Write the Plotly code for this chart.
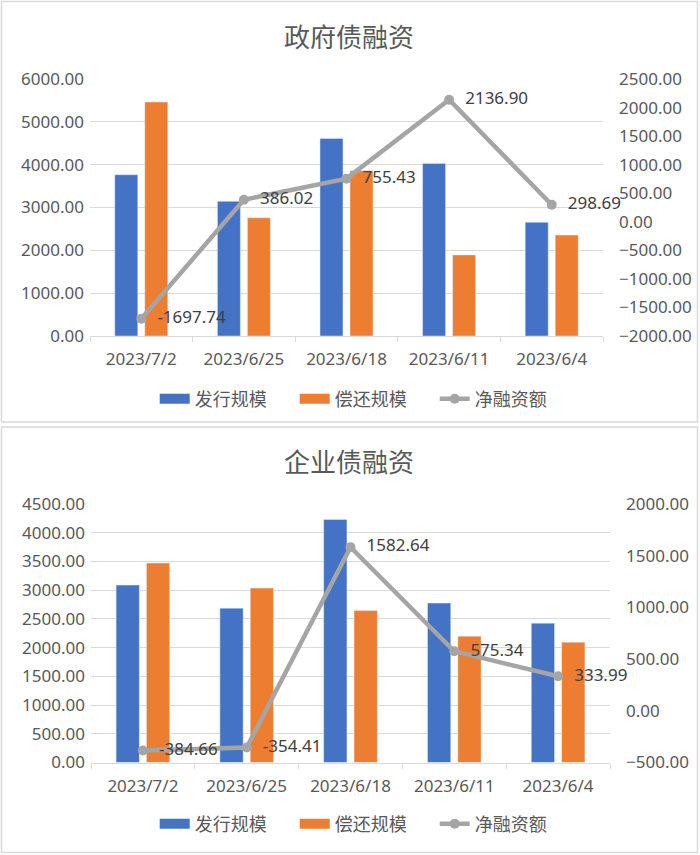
import plotly.graph_objects as go

W, H = 700, 855

dates = ["2023/7/2", "2023/6/25", "2023/6/18", "2023/6/11", "2023/6/4"]

gov_issue = [3765, 3145, 4612, 4030, 2655]
gov_repay = [5463, 2759, 3857, 1893, 2356]
gov_net = [-1697.74, 386.02, 755.43, 2136.90, 298.69]

corp_issue = [3088, 2687, 4230, 2775, 2426]
corp_repay = [3473, 3037, 2647, 2199, 2094]
corp_net = [-384.66, -354.41, 1582.64, 575.34, 333.99]

gov_left_ticks = [0, 1000, 2000, 3000, 4000, 5000, 6000]
gov_right_ticks = [-2000, -1500, -1000, -500, 0, 500, 1000, 1500, 2000, 2500]
corp_left_ticks = [0, 500, 1000, 1500, 2000, 2500, 3000, 3500, 4000, 4500]
corp_right_ticks = [-500, 0, 500, 1000, 1500, 2000]

BLUE = "#4472c4"
ORANGE = "#ed7d31"
GRAY = "#a5a5a5"
GRID = "#d9d9d9"
TXT = "#595959"
FONT = "Noto Sans, Noto Sans CJK SC, sans-serif"
CJK = "Noto Sans CJK SC, Noto Sans, sans-serif"


def px(x):
    return x / W


def py(y):
    return (H - y) / H


fig = go.Figure()


def add_chart(xref, yl, yr, legend, issue, repay, net):
    fig.add_trace(go.Bar(x=dates, y=issue, marker_color=BLUE, name="发行规模",
                         xaxis=xref, yaxis=yl, showlegend=False))
    fig.add_trace(go.Bar(x=dates, y=repay, marker_color=ORANGE, name="偿还规模",
                         xaxis=xref, yaxis=yl, showlegend=False))
    fig.add_trace(go.Scatter(x=dates, y=net, mode="lines+markers+text", name="净融资额",
                             line=dict(color=GRAY, width=4.5),
                             marker=dict(color=GRAY, size=10),
                             texttemplate="\u00a0\u00a0%{y:.2f}", textposition="middle right",
                             textfont=dict(family=FONT, size=17, color="#404040"),
                             xaxis=xref, yaxis=yr, showlegend=False, cliponaxis=False))
    # legend entries
    for nm, col, mode, wd in [("发行规模", BLUE, "lines", 10), ("偿还规模", ORANGE, "lines", 10),
                              ("净融资额", GRAY, "lines+markers", 4.5)]:
        fig.add_trace(go.Scatter(x=[None], y=[None], mode=mode, name=nm,
                                 line=dict(color=col, width=wd),
                                 marker=dict(color=col, size=10),
                                 xaxis=xref, yaxis=yr, legend=legend, showlegend=True))


add_chart("x", "y", "y2", "legend", gov_issue, gov_repay, gov_net)
add_chart("x2", "y3", "y4", "legend2", corp_issue, corp_repay, corp_net)

tickfont = dict(family=FONT, size=17, color=TXT)

xcommon = dict(type="category", categoryorder="array", categoryarray=dates,
               showgrid=False, showline=True, linecolor=GRID, linewidth=1,
               ticks="outside", tickson="boundaries", ticklen=5, tickcolor=GRID,
               tickfont=tickfont, ticklabelstandoff=8, fixedrange=True, automargin=False)

ycommon_left = dict(tickformat=".2f", showgrid=True, gridcolor=GRID, gridwidth=1,
                    zeroline=False, showline=False, tickfont=tickfont,
                    ticklabelstandoff=5, fixedrange=True, automargin=False)
ycommon_right = dict(tickformat=".2f", showgrid=False, zeroline=False, showline=False,
                     side="right", tickfont=tickfont, ticklabelstandoff=15, fixedrange=True,
                     automargin=False)

legend_common = dict(orientation="h", x=0.521, xanchor="center", yanchor="middle",
                     font=dict(family=CJK, size=18, color=TXT), bgcolor="rgba(0,0,0,0)",
                     itemwidth=30, entrywidth=95, entrywidthmode="pixels")

fig.update_layout(
    width=W, height=H,
    margin=dict(l=0, r=0, t=0, b=0, autoexpand=False),
    paper_bgcolor="white", plot_bgcolor="rgba(0,0,0,0)",
    barmode="group", bargap=0.415, bargroupgap=0.233,
    xaxis=dict(domain=[px(90), px(603)], anchor="y", **xcommon),
    yaxis=dict(domain=[py(336), py(79)], anchor="x", range=[0, 6000],
               tickvals=gov_left_ticks, **ycommon_left),
    yaxis2=dict(overlaying="y", anchor="x", range=[-2000, 2500],
                tickvals=gov_right_ticks, **ycommon_right),
    xaxis2=dict(domain=[px(91), px(610)], anchor="y3", **xcommon),
    yaxis3=dict(domain=[py(762.5), py(504)], anchor="x2", range=[0, 4500],
                tickvals=corp_left_ticks, **ycommon_left),
    yaxis4=dict(overlaying="y3", anchor="x2", range=[-500, 2000],
                tickvals=corp_right_ticks, **ycommon_right),
    legend=dict(y=py(399), **legend_common),
    legend2=dict(y=py(824), **legend_common),
    annotations=[
        dict(text="政府债融资", x=px(349), y=py(35), xref="paper", yref="paper",
             xanchor="center", yanchor="middle", showarrow=False,
             font=dict(family=CJK, size=26, color=TXT)),
        dict(text="企业债融资", x=px(349), y=py(460), xref="paper", yref="paper",
             xanchor="center", yanchor="middle", showarrow=False,
             font=dict(family=CJK, size=26, color=TXT)),
    ],
    shapes=[
        dict(type="rect", xref="paper", yref="paper", x0=px(1.5), x1=px(697.5),
             y0=py(422), y1=py(1.5), line=dict(color=GRID, width=1.5), layer="below"),
        dict(type="rect", xref="paper", yref="paper", x0=px(1.5), x1=px(697.5),
             y0=py(852.5), y1=py(427), line=dict(color=GRID, width=1.5), layer="below"),
    ],
)

fig.write_html("out.html")
